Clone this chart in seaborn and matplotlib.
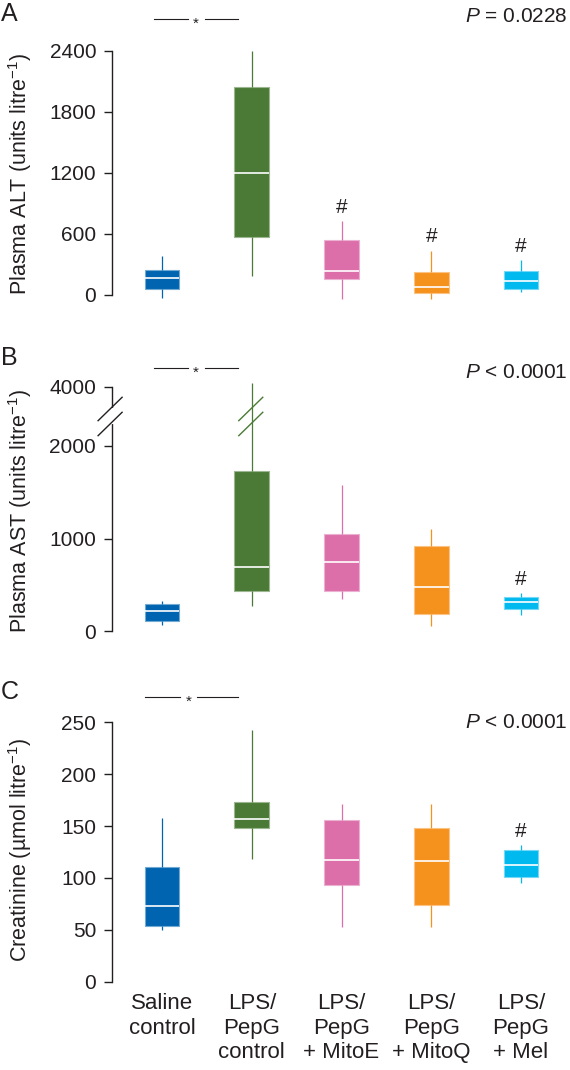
import numpy as np
import pandas as pd
import matplotlib
matplotlib.use("Agg")
import matplotlib.pyplot as plt
import seaborn as sns
from matplotlib.lines import Line2D
from matplotlib.transforms import blended_transform_factory

# ---------------- data ----------------
groups = ["Saline\ncontrol", "LPS/\nPepG\ncontrol", "LPS/\nPepG\n+ MitoE",
          "LPS/\nPepG\n+ MitoQ", "LPS/\nPepG\n+ Mel"]
colors = ["#0064b0", "#4a7a35", "#dc6fa9", "#f5921e", "#00b9ee"]

# five values per group: [min, q1, median, q3, max]
alt_values = [[-26, 56, 167, 243, 387],
              [187, 570, 1200, 2043, 2400],
              [-43, 154, 236, 541, 725],
              [-43, 23, 79, 226, 436],
              [30, 62, 138, 236, 341]]
ast_values = [[65, 109, 217, 290, 326],
              [275, 428, 692, 1735, 4150],
              [351, 428, 743, 1051, 1580],
              [58, 185, 478, 917, 1105],
              [178, 239, 319, 366, 409]]
creat_values = [[49.5, 53.3, 73.3, 110.9, 158],
                [118.3, 147.8, 156.8, 173.5, 242.6],
                [53, 93.2, 117.3, 155.8, 171],
                [53, 73.6, 116.3, 148.5, 171],
                [95.4, 101.2, 112.1, 126.6, 131.7]]

alt_hash = [0, 0, 1, 1, 1]
ast_hash = [0, 0, 0, 0, 1]
creat_hash = [0, 0, 0, 0, 1]

alt_ticks = [0, 600, 1200, 1800, 2400]
ast_ticks = [0, 1000, 2000, 4000]
creat_ticks = [0, 50, 100, 150, 200, 250]

p_texts = [r"$\mathit{P}$ = 0.0228", r"$\mathit{P}$ < 0.0001", r"$\mathit{P}$ < 0.0001"]
ylabels = ["Plasma ALT (units litre$^{-1}$)",
           "Plasma AST (units litre$^{-1}$)",
           "Creatinine (\u00b5mol litre$^{-1}$)"]
panel_letters = ["A", "B", "C"]

# ---------------- style ----------------
plt.rcParams["font.family"] = ["Liberation Sans", "DejaVu Sans"]
plt.rcParams["mathtext.fontset"] = "custom"
plt.rcParams["mathtext.rm"] = "Liberation Sans"
plt.rcParams["mathtext.it"] = "Liberation Sans:italic"
plt.rcParams["mathtext.default"] = "regular"
TXT = "#231f20"
FS = 15
FS_LAB = 16
FS_YLAB = 15.5

W, H = 570, 1070
fig = plt.figure(figsize=(W / 100, H / 100), dpi=100)

BREAK_LO, BREAK_HI, K = 2000, 4000, 0.319


def fwd(v):
    v = np.asarray(v, float)
    return np.where(v <= BREAK_LO, v, BREAK_LO + (v - BREAK_LO) * K)


def inv(f):
    f = np.asarray(f, float)
    return np.where(f <= BREAK_LO, f, BREAK_LO + (f - BREAK_LO) / K)


def lighten(c, a=0.45):
    r, g, b = matplotlib.colors.to_rgb(c)
    return (r + (1 - r) * a, g + (1 - g) * a, b + (1 - b) * a)


left_px, right_px = 111.5, 561.4
xlim = (-0.563, 4.45)
panels = [
    dict(top=40.8, bot=307.2, ylim=(-120, 2500), vals=alt_values, hashes=alt_hash,
         ticks=alt_ticks, bounds=(0, 2400), star_y=19, star_x=(-0.089, 0.847, 0.379),
         p_y=17, letter_y=14),
    dict(top=376.6, bot=644.9, ylim=(-150, float(inv(2750))), vals=ast_values, hashes=ast_hash,
         ticks=ast_ticks, bounds=(0, 4000), star_y=368, star_x=(-0.089, 0.847, 0.379),
         p_y=373, letter_y=358),
    dict(top=706.8, bot=992.1, ylim=(-10, 265), vals=creat_values, hashes=creat_hash,
         ticks=creat_ticks, bounds=(0, 250), star_y=697, star_x=(-0.189, 0.847, 0.30),
         p_y=722, letter_y=692),
]

for i, p in enumerate(panels):
    ax = fig.add_axes([left_px / W, 1 - p["bot"] / H, (right_px - left_px) / W,
                       (p["bot"] - p["top"]) / H])
    df = pd.DataFrame({"group": np.repeat(groups, 5),
                       "value": np.concatenate(p["vals"])})
    for g, c in zip(groups, colors):
        sub = df[df["group"] == g]
        sns.boxplot(data=sub, x="group", y="value", order=groups, color=c,
                    linecolor=c, saturation=1, width=0.385, whis=(0, 100),
                    linewidth=0.9, showfliers=False, ax=ax,
                    boxprops={"edgecolor": lighten(c), "linewidth": 0.8},
                    medianprops={"color": "white", "linewidth": 1.2},
                    capprops={"linewidth": 0})
    if i == 1:
        ax.set_yscale("function", functions=(fwd, inv))
    ax.set_xlim(*xlim)
    ax.set_ylim(*p["ylim"])
    ax.set_yticks(p["ticks"])
    ax.set_yticklabels([str(t) for t in p["ticks"]])
    ax.yaxis.set_minor_locator(matplotlib.ticker.NullLocator())
    for s in ["top", "right", "bottom"]:
        ax.spines[s].set_visible(False)
    ax.spines["left"].set_bounds(*p["bounds"])
    ax.spines["left"].set_linewidth(1.0)
    ax.spines["left"].set_color(TXT)
    ax.set_facecolor("none")
    ax.tick_params(axis="y", labelsize=FS, length=6, width=1.0, pad=5,
                   color=TXT, labelcolor=TXT)
    ax.set_xlabel("")
    ax.set_ylabel(ylabels[i], fontsize=FS_YLAB, color=TXT)
    ax.yaxis.set_label_coords(-0.172, 0.5)
    if i == 2:
        ax.tick_params(axis="x", labelsize=FS_LAB, length=0, pad=1, labelcolor=TXT)
        for lab in ax.get_xticklabels():
            lab.set_linespacing(1.2)
    else:
        ax.tick_params(axis="x", length=0, labelbottom=False)

    # hash marks above whisker tops
    for j, (v, h) in enumerate(zip(p["vals"], p["hashes"])):
        if h:
            ax.annotate("#", xy=(j, max(v)), xytext=(0, 6), textcoords="offset points",
                        ha="center", va="baseline", fontsize=FS, color=TXT)

    # significance bar with asterisk
    tr = blended_transform_factory(ax.transData, fig.transFigure)
    x0, x1, xs = p["star_x"]
    yb = 1 - p["star_y"] / H
    gap = 0.095
    ax.plot([x0, xs - gap], [yb, yb], transform=tr, color=TXT, lw=0.8, clip_on=False)
    ax.plot([xs + gap, x1], [yb, yb], transform=tr, color=TXT, lw=0.8, clip_on=False)
    fig.text(0, 0, "*", fontsize=11, ha="center", va="baseline", color=TXT,
             transform=blended_transform_factory(ax.transData, fig.transFigure),
             position=(xs, 1 - (p["star_y"] + 8.5) / H))

    # P value and panel letter
    fig.text(568 / W, 1 - p["p_y"] / H, p_texts[i], fontsize=FS, ha="right",
             va="center", color=TXT)
    fig.text(1 / W, 1 - p["letter_y"] / H, panel_letters[i], fontsize=18,
             ha="left", va="center", color=TXT)

    # axis break marks for panel B
    if i == 1:
        vb = float(inv((fwd(BREAK_LO) + fwd(BREAK_HI)) / 2))
        inv_fig = fig.transFigure.inverted()
        sx, sy = ax.transAxes.transform((0, 0))[0], ax.transData.transform((0, vb))[1]
        a = inv_fig.transform((sx, sy - 6))
        b = inv_fig.transform((sx, sy + 6))
        fig.add_artist(Line2D([a[0], b[0]], [a[1], b[1]], color="white", lw=3,
                              transform=fig.transFigure))
        wx = ax.transData.transform((1, vb))[0]
        for cx, col in [(sx - 1.4, TXT), (wx - 1.0, colors[1])]:
            for dy in (7.5, -7.5):
                a = inv_fig.transform((cx - 12, sy + dy - 11.7))
                b = inv_fig.transform((cx + 12, sy + dy + 11.7))
                fig.add_artist(Line2D([a[0], b[0]], [a[1], b[1]], color=col, lw=1.0,
                                      transform=fig.transFigure))

fig.savefig("out.png", dpi=100, facecolor="white")
